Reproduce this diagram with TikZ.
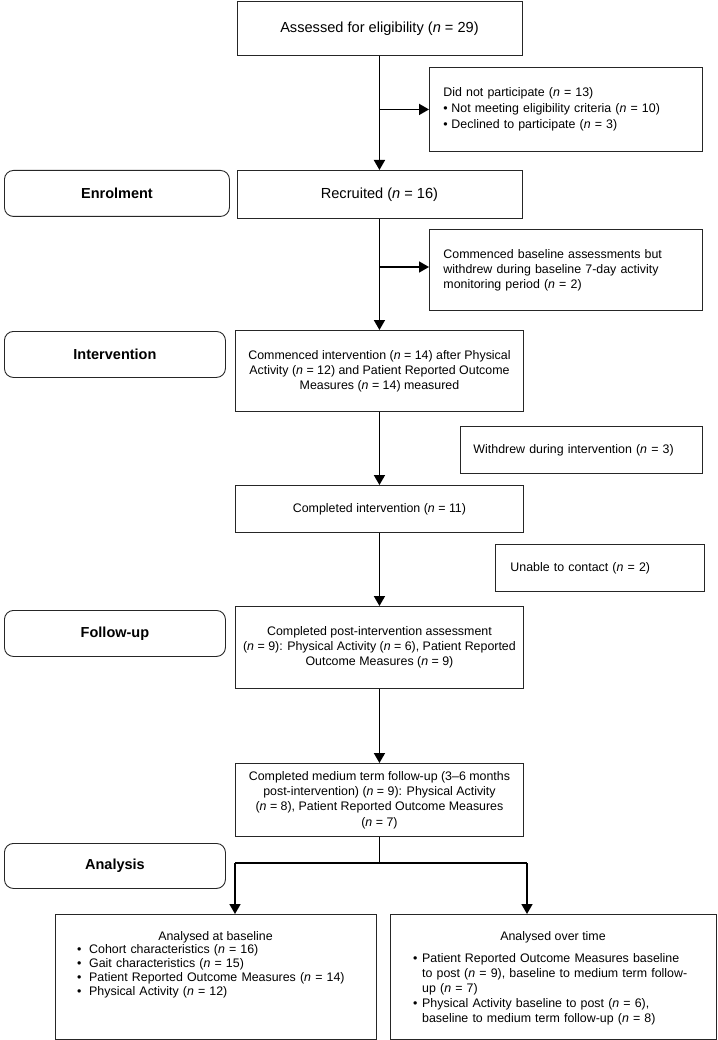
\documentclass[tikz,border=0pt]{standalone}
\usepackage{fontspec}
\setmainfont{Liberation Sans}
\usetikzlibrary{arrows.meta}
\begin{document}
\begin{tikzpicture}[x=1pt,y=-1pt,
  box/.style={draw=black!85, line width=0.9pt, inner sep=0pt, anchor=north west, align=center,
    font=\fontsize{12.4}{15}\selectfont},
  bigbox/.style={box, font=\fontsize{14.6}{17}\selectfont},
  leftbox/.style={box, align=left},
  stage/.style={draw=black!85, line width=0.9pt, rounded corners=9pt, inner sep=0pt, anchor=north west,
    font=\fontsize{14.5}{17}\selectfont\bfseries},
  txt/.style={inner sep=0pt, font=\fontsize{12.4}{14}\selectfont},
  arr/.style={line width=1.7pt, -{Triangle[length=10pt,width=11pt]}},
  ln/.style={line width=1.7pt}]
\useasboundingbox (0,0) rectangle (717,1040);
\newcommand{\nn}{\textit{n}}
\newcommand{\bul}[1][9pt]{\makebox[#1][l]{•}}

% main flow
\node[bigbox, minimum width=285pt, minimum height=54pt] (assess) at (236.5,1)
  {Assessed for eligibility (\nn{} = 29)};
\node[leftbox, minimum width=273pt, minimum height=84pt, text width=245pt, inner xsep=14pt,
      font=\fontsize{12.4}{16}\selectfont] (dnp) at (429,67)
  {Did not participate (\nn{} = 13)\\
   \bul[8pt]Not meeting eligibility criteria (\nn{} = 10)\\
   \bul[8pt]Declined to participate (\nn{} = 3)};
\node[bigbox, minimum width=285pt, minimum height=48pt] (recr) at (236.5,170)
  {Recruited (\nn{} = 16)};
\node[leftbox, minimum width=273pt, minimum height=81pt, text width=245pt, inner xsep=14pt] (cbase) at (429,229)
  {Commenced baseline assessments but\\
   withdrew during baseline 7-day activity\\
   monitoring period (\nn{} = 2)};
\node[box, minimum width=288pt, minimum height=81pt] (cint) at (235,330)
  {Commenced intervention (\nn{} = 14) after Physical\\
   Activity (\nn{} = 12) and Patient Reported Outcome\\
   Measures (\nn{} = 14) measured};
\node[leftbox, minimum width=242pt, minimum height=47pt, text width=216pt, inner xsep=13pt] (wdi) at (460,426)
  {Withdrew during intervention (\nn{} = 3)};
\node[box, minimum width=288pt, minimum height=47pt] (compi) at (235,485)
  {Completed intervention (\nn{} = 11)};
\node[leftbox, minimum width=209pt, minimum height=47pt, text width=179pt, inner xsep=15pt] (utc) at (495,544)
  {Unable to contact (\nn{} = 2)};
\node[box, minimum width=288pt, minimum height=82pt] (post) at (235,606)
  {Completed post-intervention assessment\\
   (\nn{} = 9): Physical Activity (\nn{} = 6), Patient Reported\\
   Outcome Measures (\nn{} = 9)};
\node[box, minimum width=288pt, minimum height=73pt, font=\fontsize{12.4}{15.3}\selectfont] (med) at (235,763)
  {Completed medium term follow-up (3–6 months\\
   post-intervention) (\nn{} = 9): Physical Activity\\
   (\nn{} = 8), Patient Reported Outcome Measures\\
   (\nn{} = 7)};

% analysis boxes
\node[box, minimum width=321pt, minimum height=125pt] (lb) at (55,914) {};
\node[box, minimum width=326pt, minimum height=125pt] (rb) at (390,914) {};
\node[txt] (lbt) at (215.5,937) {Analysed at baseline};
\node[txt] (rbt) at (553,937) {Analysed over time};
\node[txt, anchor=base west, text width=295pt, align=left] (lbi) at (77,953)
  {\bul[12pt]Cohort characteristics (\nn{} = 16)\\
   \bul[12pt]Gait characteristics (\nn{} = 15)\\
   \bul[12pt]Patient Reported Outcome Measures (\nn{} = 14)\\
   \bul[12pt]Physical Activity (\nn{} = 12)};
\node[txt, anchor=base west, text width=300pt, align=left, font=\fontsize{12.4}{15}\selectfont] (rbi) at (413,962)
  {\bul Patient Reported Outcome Measures baseline\\
   \hspace*{9pt}to post (\nn{} = 9), baseline to medium term follow-\\
   \hspace*{9pt}up (\nn{} = 7)\\
   \bul Physical Activity baseline to post (\nn{} = 6),\\
   \hspace*{9pt}baseline to medium term follow-up (\nn{} = 8)};

% stage labels
\node[stage, minimum width=225pt, minimum height=46pt] (enr) at (4,170) {Enrolment};
\node[stage, minimum width=221pt, minimum height=46pt] (intv) at (4,331) {Intervention};
\node[stage, minimum width=221pt, minimum height=46pt] (fu) at (4,610) {Follow-up};
\node[stage, minimum width=221pt, minimum height=45pt] (ana) at (4,843) {Analysis};

% connectors
\draw[arr] (assess.south) -- (recr.north);
\draw[arr] (assess.south |- dnp.west) -- (dnp.west);
\draw[arr] (recr.south) -- (cint.north);
\draw[arr] (recr.south |- 0,267) -- (cbase.west |- 0,267);
\draw[arr] (cint.south) -- (compi.north);
\draw[arr] (compi.south) -- (post.north);
\draw[arr] (post.south) -- (med.north);
\coordinate (sl) at (235,863);
\coordinate (sr) at (527,863);
\draw[ln] (med.south) -- (med.south |- sl);
\draw[ln] (sl) -- (sr);
\draw[arr] (sl) -- (sl |- lb.north);
\draw[arr] (sr) -- (sr |- rb.north);
\end{tikzpicture}
\end{document}
